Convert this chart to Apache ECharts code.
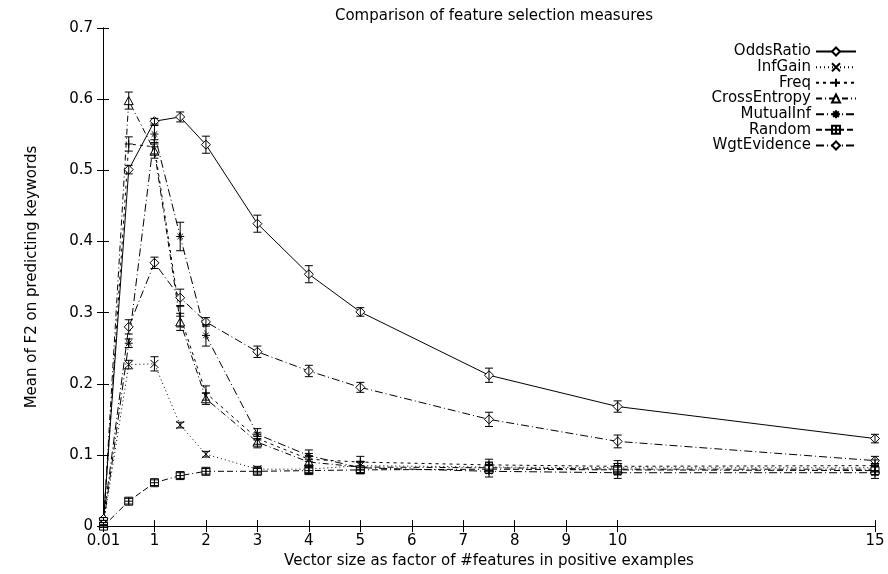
<!DOCTYPE html>
<html>
<head>
<meta charset="utf-8">
<script src="https://cdn.jsdelivr.net/npm/echarts@6/dist/echarts.min.js"></script>
<style>
html,body{margin:0;padding:0;background:#fff;}
#chart{width:888px;height:574px;}
</style>
</head>
<body>
<div id="chart"></div>
<script>
// ---- data ----
const xValues = [0.01, 0.5, 1, 1.5, 2, 3, 4, 5, 7.5, 10, 15];
const xTicks = [0.01, 1, 2, 3, 4, 5, 6, 7, 8, 9, 10, 15];
const yTicks = [0, 0.1, 0.2, 0.3, 0.4, 0.5, 0.6, 0.7];

const oddsRatio    = [0.010, 0.501, 0.569, 0.575, 0.536, 0.425, 0.354, 0.301, 0.212, 0.168, 0.123];
const infGain      = [0.003, 0.227, 0.228, 0.142, 0.101, 0.080, 0.080, 0.085, 0.083, 0.082, 0.082];
const freq         = [0.003, 0.537, 0.533, 0.295, 0.187, 0.123, 0.094, 0.090, 0.086, 0.084, 0.085];
const crossEntropy = [0.003, 0.598, 0.527, 0.287, 0.179, 0.118, 0.090, 0.083, 0.082, 0.080, 0.080];
const mutualInf    = [0.003, 0.257, 0.551, 0.407, 0.268, 0.129, 0.099, 0.082, 0.077, 0.075, 0.075];
const randomSel    = [0.000, 0.035, 0.061, 0.071, 0.077, 0.077, 0.078, 0.079, 0.080, 0.079, 0.078];
const wgtEvidence  = [0.010, 0.280, 0.370, 0.321, 0.287, 0.245, 0.218, 0.195, 0.150, 0.119, 0.092];

const oddsRatioErr    = [0.002, 0.006, 0.004, 0.007, 0.012, 0.012, 0.012, 0.006, 0.010, 0.008, 0.006];
const infGainErr      = [0.002, 0.006, 0.010, 0.004, 0.004, 0.004, 0.005, 0.006, 0.006, 0.006, 0.006];
const freqErr         = [0.002, 0.010, 0.010, 0.015, 0.010, 0.008, 0.008, 0.008, 0.008, 0.008, 0.008];
const crossEntropyErr = [0.002, 0.012, 0.010, 0.012, 0.008, 0.008, 0.008, 0.008, 0.008, 0.008, 0.008];
const mutualInfErr    = [0.002, 0.006, 0.012, 0.020, 0.015, 0.008, 0.008, 0.008, 0.008, 0.008, 0.008];
const randomSelErr    = [0.002, 0.004, 0.004, 0.004, 0.004, 0.004, 0.004, 0.004, 0.006, 0.006, 0.006];
const wgtEvidenceErr  = [0.002, 0.010, 0.008, 0.012, 0.006, 0.008, 0.008, 0.007, 0.010, 0.009, 0.006];

const names = ['OddsRatio','InfGain','Freq','CrossEntropy','MutualInf','Random','WgtEvidence'];
const values = [oddsRatio, infGain, freq, crossEntropy, mutualInf, randomSel, wgtEvidence];
const errors = [oddsRatioErr, infGainErr, freqErr, crossEntropyErr, mutualInfErr, randomSelErr, wgtEvidenceErr];

// ---- styles ----
const DIAMOND = 'path://M5,0L10,5L5,10L0,5Z';
const symbols = [
  DIAMOND,
  'path://M0,0L10,10M10,0L0,10',
  'path://M5,0L5,10M0,5L10,5',
  'path://M5,0L10,9L0,9Z',
  'path://M5,0L5,10M0,5L10,5M1.5,1.5L8.5,8.5M8.5,1.5L1.5,8.5',
  'path://M0,0L10,0L10,10L0,10ZM5,0L5,10M0,5L10,5',
  DIAMOND
];
const symbolSizes = [9, 8, 8, 9, 8, 8, 9];
const dashes = ['solid', [1,3], [3,4], [6,3,1,3], [8,3,1,3], [6,3,6,3,1,3], [8,3,1,3]];
const FONT = 'DejaVu Sans, sans-serif';
const FS = 15;

const series = [];
names.forEach((n, i) => {
  series.push({
    name: n, type: 'line', z: 3,
    data: xValues.map((x, k) => [x, values[i][k]]),
    symbol: symbols[i], symbolSize: symbolSizes[i], symbolKeepAspect: true,
    showAllSymbol: true,
    lineStyle: {color: '#000', width: 1, type: dashes[i]},
    itemStyle: {color: '#fff', borderColor: '#000', borderWidth: 1},
    emphasis: {disabled: true}
  });
  series.push({
    type: 'custom', z: 4, silent: true,
    data: xValues.map((x, k) => [x, values[i][k], errors[i][k]]),
    encode: {x: 0, y: 1},
    renderItem: function (params, api) {
      const x = api.value(0), y = api.value(1), e = api.value(2);
      const p1 = api.coord([x, y - e]), p2 = api.coord([x, y + e]);
      const w = 4;
      const st = {stroke: '#000', lineWidth: 1};
      return {type: 'group', children: [
        {type: 'line', shape: {x1: p1[0], y1: p1[1], x2: p2[0], y2: p2[1]}, style: st},
        {type: 'line', shape: {x1: p1[0]-w, y1: p1[1], x2: p1[0]+w, y2: p1[1]}, style: st},
        {type: 'line', shape: {x1: p2[0]-w, y1: p2[1], x2: p2[0]+w, y2: p2[1]}, style: st}
      ]};
    }
  });
});

const legends = names.map((n, i) => ({
  data: [n], orient: 'vertical', align: 'right',
  right: 31, top: 44 + i * 15.67,
  itemWidth: 40, itemHeight: 10, itemGap: 0, padding: 0,
  selectedMode: false,
  textStyle: {fontFamily: FONT, fontSize: FS, color: '#000', lineHeight: 14}
}));

const axisCommon = {
  axisLine: {show: true, lineStyle: {color: '#000', width: 1}},
  splitLine: {show: false}
};

const option = {
  animation: false,
  backgroundColor: '#fff',
  title: {
    text: 'Comparison of feature selection measures',
    left: 489, top: 4, textAlign: 'center',
    textStyle: {fontFamily: FONT, fontSize: FS, fontWeight: 'normal', color: '#000'}
  },
  legend: legends,
  grid: {left: 103, right: 13, top: 28, bottom: 43, containLabel: false},
  xAxis: [
    Object.assign({}, axisCommon, {
      type: 'value', min: 0, max: 15, position: 'bottom',
      name: 'Vector size as factor of #features in positive examples',
      nameLocation: 'middle', nameGap: 23,
      nameTextStyle: {fontFamily: FONT, fontSize: FS, color: '#000'},
      axisTick: {show: true, inside: true, length: 6, customValues: xTicks, lineStyle: {color: '#000'}},
      axisLabel: {customValues: xTicks, fontFamily: FONT, fontSize: FS, color: '#000', margin: 8,
        formatter: v => String(v)}
    }),
    Object.assign({}, axisCommon, {
      type: 'value', min: 0, max: 15, position: 'top',
      axisTick: {show: true, inside: true, length: 6, customValues: xTicks, lineStyle: {color: '#000'}},
      axisLabel: {show: false}
    })
  ],
  yAxis: [
    Object.assign({}, axisCommon, {
      type: 'value', min: 0, max: 0.7, interval: 0.1, position: 'left',
      name: 'Mean of F2 on predicting keywords',
      nameLocation: 'middle', nameGap: 63, nameRotate: 90,
      nameTextStyle: {fontFamily: FONT, fontSize: FS, color: '#000'},
      axisTick: {show: true, inside: true, length: 6, customValues: yTicks, lineStyle: {color: '#000'}},
      axisLabel: {customValues: yTicks, fontFamily: FONT, fontSize: FS, color: '#000', margin: 10,
        formatter: v => String(Math.round(v * 10) / 10)}
    }),
    Object.assign({}, axisCommon, {
      type: 'value', min: 0, max: 0.7, interval: 0.1, position: 'right',
      axisTick: {show: true, inside: true, length: 6, customValues: yTicks, lineStyle: {color: '#000'}},
      axisLabel: {show: false}
    })
  ],
  series: series
};

const chart = echarts.init(document.getElementById('chart'), null, {renderer: 'canvas'});
chart.setOption(option);
</script>
</body>
</html>
